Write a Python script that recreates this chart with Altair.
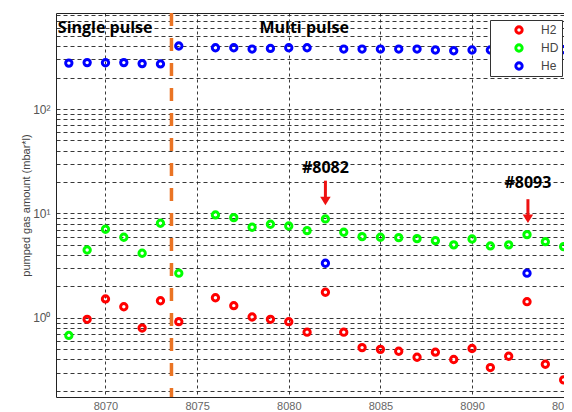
import altair as alt
import pandas as pd

# ---- data ----
shots = list(range(8068, 8096))
h2 = [None, 0.97, 1.52, 1.28, 0.80, 1.46, 0.92, None, 1.56, 1.31, 1.02, 0.97, 0.92, 0.73,
      1.76, 0.73, 0.52, 0.50, 0.48, 0.42, 0.47, 0.40, 0.51, 0.335, 0.43, 1.43, 0.36, 0.255]
hd = [0.68, 4.47, 7.06, 5.92, 4.16, 8.06, 2.68, None, 9.68, 9.12, 7.38, 7.88, 7.59, 6.85,
      8.86, 6.61, 6.00, 5.92, 5.87, 5.74, 5.49, 5.00, 5.70, 4.89, 5.00, 6.27, 5.37, 4.81]
he = [275, 278, 277, 278, 272, 270, 401, None, 386, 386, 375, 380, 386, 386,
      3.34, 375, 375, 375, 375, 375, 367, 361, 367, 367, 370, 2.68, 370, 370]
series = ["H2", "HD", "He"]
colors = ["#ff0000", "#00ff00", "#0000ff"]

y_grid = [0.2, 0.3, 0.4, 0.5, 0.6, 0.7, 0.8, 0.9, 1, 2, 3, 4, 5, 6, 7, 8, 9,
          10, 20, 30, 40, 50, 60, 70, 80, 90, 100, 200, 300, 400, 500, 600, 700, 800]
x_ticks = [8070, 8075, 8080, 8085, 8090, 8095]
x_dom = [8067.3, 8095.4]
y_dom = [0.175, 830]

divider_x = [8073.6]
labels_text = ["Single pulse", "Multi pulse"]
labels_x = [8067.4, 8078.4]
labels_y = [600, 600]

ann_text = ["#8082", "#8093"]
ann_x = [8082, 8093.05]
ann_y = [27.5, 19.5]
arrow_top = [20.6, 13.7]
arrow_head = [13.3, 9.0]

rows = []
for i, s in enumerate(shots):
    for name, vals in zip(series, [h2, hd, he]):
        if vals[i] is not None:
            rows.append({"shot": s, "gas": name, "value": vals[i]})
df = pd.DataFrame(rows)

xs = alt.Scale(domain=x_dom, nice=False, zero=False)
ys = alt.Scale(type="log", domain=y_dom, nice=False)

xaxis = alt.Axis(values=x_ticks, format="d", grid=True, gridDash=[3, 3], gridColor="#222",
                 gridOpacity=0.9, ticks=False, domain=False, labelColor="#666",
                 labelFontSize=11, labelFont="Liberation Sans", labelPadding=3, title=None)
yaxis = alt.Axis(values=y_grid, grid=True, gridDash=[4, 3], gridColor="#222",
                 gridOpacity=0.9, ticks=False, domain=False,
                 labelExpr="datum.value == 1 ? '10\u2070' : datum.value == 10 ? '10\u00b9' : datum.value == 100 ? '10\u00b2' : ''",
                 labelColor="#555", labelFontSize=12, labelFont="Liberation Sans", labelPadding=6,
                 title="pumped gas amount (mbar*l)", titleFont="Liberation Sans",
                 titleFontSize=11, titleFontWeight="normal", titleColor="#444",
                 titleX=-30, titleY=192, titleAlign="center", titleBaseline="middle", titleAngle=270)

base = alt.Chart(df)

points = base.mark_point(shape="circle", filled=False, strokeWidth=3, size=40, opacity=1).encode(
    x=alt.X("shot:Q", scale=xs, axis=xaxis),
    y=alt.Y("value:Q", scale=ys, axis=yaxis),
    color=alt.Color("gas:N", scale=alt.Scale(domain=series, range=colors),
                    legend=alt.Legend(title=None, orient="none", legendX=434, legendY=7,
                                      fillColor="white", strokeColor="#333", padding=3,
                                      symbolType="circle", symbolSize=40, symbolStrokeWidth=3,
                                      symbolFillColor="transparent", labelFontSize=12,
                                      labelFont="Liberation Sans", labelColor="#444",
                                      labelOffset=16, rowPadding=4, symbolOffset=20,
                                      clipHeight=14, cornerRadius=0)),
)

div_df = pd.DataFrame({"x": divider_x})
divider = alt.Chart(div_df).mark_rule(color="#ea7424", strokeWidth=3.5, strokeDash=[13, 12]).encode(
    x=alt.X("x:Q", scale=xs)
)

lab_df = pd.DataFrame({"t": labels_text, "x": labels_x, "y": labels_y})
labels = alt.Chart(lab_df).mark_text(align="left", baseline="middle", font="Open Sans",
                                     fontSize=16, fontWeight="bold", color="black").encode(
    x=alt.X("x:Q", scale=xs), y=alt.Y("y:Q", scale=ys), text="t:N")

ann_df = pd.DataFrame({"t": ann_text, "x": ann_x, "y": ann_y, "top": arrow_top, "head": arrow_head})
ann = alt.Chart(ann_df).mark_text(align="center", baseline="middle", font="Open Sans",
                                  fontSize=16, fontWeight="bold", color="black").encode(
    x=alt.X("x:Q", scale=xs), y=alt.Y("y:Q", scale=ys), text="t:N")
shaft = alt.Chart(ann_df).mark_rule(color="#ee1111", strokeWidth=3).encode(
    x=alt.X("x:Q", scale=xs), y=alt.Y("top:Q", scale=ys), y2="head:Q")
head = alt.Chart(ann_df).mark_point(shape="M-1,-0.7L1,-0.7L0,0.9Z", filled=True, color="#ee1111",
                                    size=110, opacity=1).encode(
    x=alt.X("x:Q", scale=xs), y=alt.Y("head:Q", scale=ys))

chart = alt.layer(points, divider, labels, shaft, head, ann).properties(
    width=515, height=384,
    autosize=alt.AutoSizeParams(type="none"),
    padding={"left": 48, "top": 5, "right": -7, "bottom": 15},
).configure_view(stroke="#222", strokeWidth=1)

chart.save("out.html", embed_options={"renderer": "svg", "actions": False})
